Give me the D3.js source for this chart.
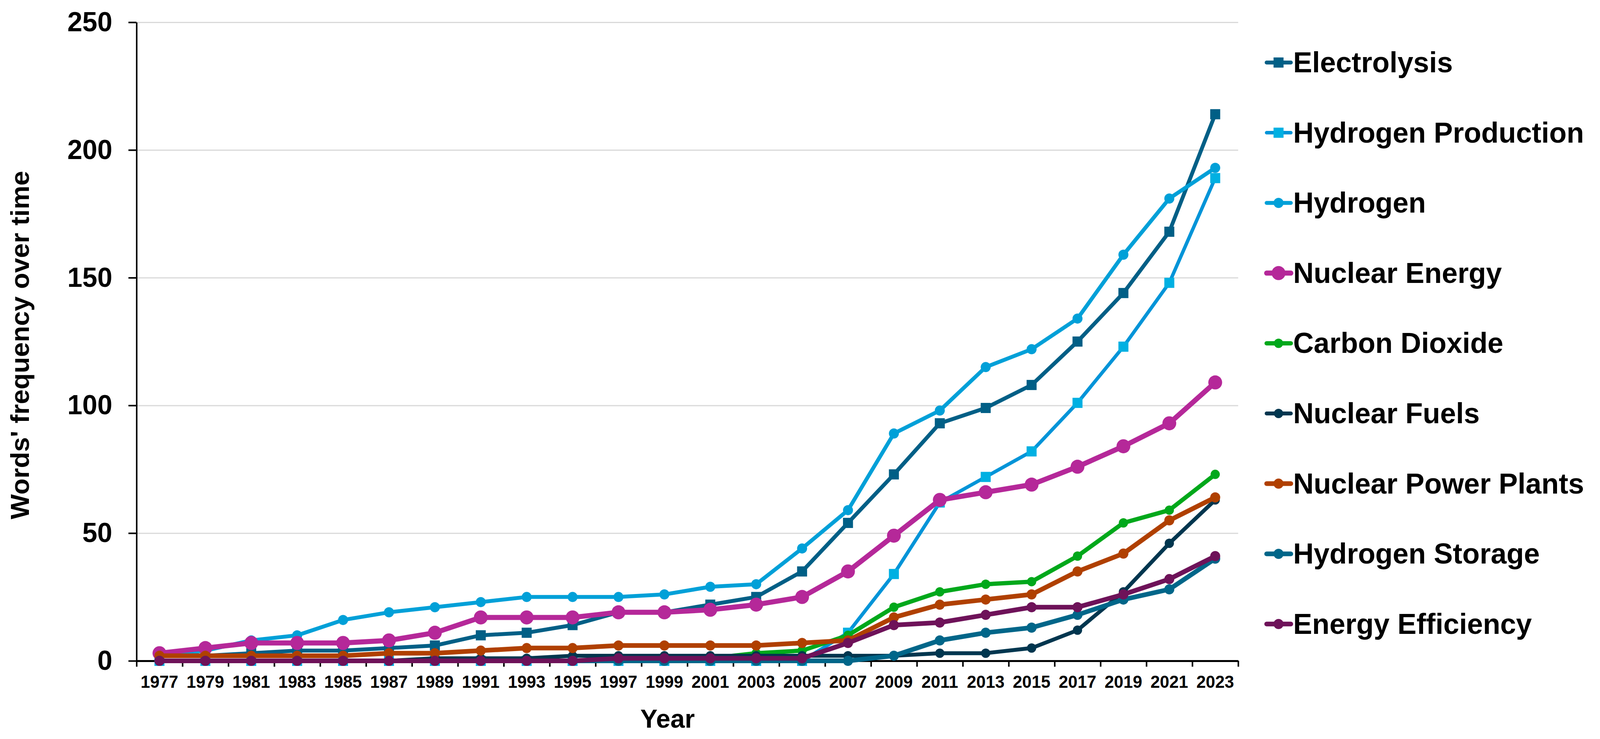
<!DOCTYPE html>
<html>
<head>
<meta charset="utf-8">
<script src="https://cdn.jsdelivr.net/npm/d3@7"></script>
<style>
  html, body { margin: 0; padding: 0; background: #fff; overflow: hidden; }
  svg { display: block; width: 100vw; height: 100vh; }
  text { font-family: "Liberation Sans", Arial, sans-serif; font-weight: bold; fill: #000; }
</style>
</head>
<body>
<svg id="chart" viewBox="0 0 4161 1891" preserveAspectRatio="none"></svg>
<script>
// category labels (x axis)
const years = ['1977', '1979', '1981', '1983', '1985', '1987', '1989', '1991', '1993', '1995', '1997', '1999',
  '2001', '2003', '2005', '2007', '2009', '2011', '2013', '2015', '2017', '2019', '2021', '2023'];
const yTicks = [0, 50, 100, 150, 200, 250];

// series values
const electrolysis = [2, 2, 3, 4, 4, 5, 6, 10, 11, 14, 19, 19, 22, 25, 35, 54, 73, 93, 99, 108, 125, 144, 168, 214];
const hydrogenProduction = [0, 0, 0, 0, 0, 0, 0, 0, 0, 0, 0, 0, 0, 0, 0, 11, 34, 62, 72, 82, 101, 123, 148, 189];
const hydrogen = [2, 4, 8, 10, 16, 19, 21, 23, 25, 25, 25, 26, 29, 30, 44, 59, 89, 98, 115, 122, 134, 159, 181, 193];
const nuclearEnergy = [3, 5, 7, 7, 7, 8, 11, 17, 17, 17, 19, 19, 20, 22, 25, 35, 49, 63, 66, 69, 76, 84, 93, 109];
const carbonDioxide = [0, 0, 0, 0, 0, 0, 0, 0, 0, 0, 0, 0, 1, 3, 4, 10, 21, 27, 30, 31, 41, 54, 59, 73];
const nuclearFuels = [0, 0, 0, 0, 0, 0, 1, 1, 1, 2, 2, 2, 2, 2, 2, 2, 2, 3, 3, 5, 12, 27, 46, 63];
const nuclearPowerPlants = [2, 2, 2, 2, 2, 3, 3, 4, 5, 5, 6, 6, 6, 6, 7, 8, 17, 22, 24, 26, 35, 42, 55, 64];
const hydrogenStorage = [0, 0, 0, 0, 0, 0, 0, 0, 0, 0, 0, 0, 0, 0, 0, 0, 2, 8, 11, 13, 18, 24, 28, 40];
const energyEfficiency = [0, 0, 0, 0, 0, 0, 0, 0, 0, 0, 1, 1, 1, 1, 1, 7, 14, 15, 18, 21, 21, 26, 32, 41];

const series = [
  { name: 'Electrolysis', values: electrolysis, line: '#005f86', fill: '#005f86', shape: 'square', size: 26, width: 10 },
  { name: 'Hydrogen Production', values: hydrogenProduction, line: '#0094d8', fill: '#00b0e2', shape: 'square', size: 26, width: 9 },
  { name: 'Hydrogen', values: hydrogen, line: '#00a0d8', fill: '#00a0d8', shape: 'circle', size: 26, width: 10 },
  { name: 'Nuclear Energy', values: nuclearEnergy, line: '#b52899', fill: '#b52899', shape: 'circle', size: 36, width: 13 },
  { name: 'Carbon Dioxide', values: carbonDioxide, line: '#00a81b', fill: '#00a81b', shape: 'circle', size: 24, width: 11 },
  { name: 'Nuclear Fuels', values: nuclearFuels, line: '#00364f', fill: '#00364f', shape: 'circle', size: 24, width: 10 },
  { name: 'Nuclear Power Plants', values: nuclearPowerPlants, line: '#b04000', fill: '#b04000', shape: 'circle', size: 26, width: 12 },
  { name: 'Hydrogen Storage', values: hydrogenStorage, line: '#006689', fill: '#006689', shape: 'circle', size: 26, width: 12 },
  { name: 'Energy Efficiency', values: energyEfficiency, line: '#6e1259', fill: '#6e1259', shape: 'circle', size: 26, width: 12 }
];

const svg = d3.select('#chart');
const plotLeft = 355, plotRight = 3220, plotTop = 57, plotBottom = 1691;

const x = d3.scaleBand().domain(years).range([plotLeft, plotRight]);
const xEdge = d3.scaleLinear().domain([0, years.length]).range([plotLeft, plotRight]);
const y = d3.scaleLinear().domain([0, 250]).range([plotBottom, plotTop]);

const markerPath = (s) => {
  const area = s.shape === 'square' ? s.size * s.size : Math.PI * (s.size / 2) * (s.size / 2);
  return d3.symbol().type(s.shape === 'square' ? d3.symbolSquare : d3.symbolCircle).size(area)();
};

// gridlines
svg.append('g')
  .attr('transform', `translate(${plotLeft},0)`)
  .call(d3.axisLeft(y).tickValues(yTicks.slice(1)).tickSize(-(plotRight - plotLeft)).tickFormat(''))
  .call((g) => g.select('.domain').remove())
  .selectAll('line')
  .attr('stroke', '#d9d9d9')
  .attr('stroke-width', 3);

// y axis
const yAxis = svg.append('g')
  .attr('transform', `translate(${plotLeft},0)`)
  .call(d3.axisLeft(y).tickValues(yTicks).tickSize(21).tickSizeOuter(0).tickPadding(42));
yAxis.select('.domain').attr('stroke', '#000').attr('stroke-width', 4);
yAxis.selectAll('.tick line').attr('stroke', '#000').attr('stroke-width', 4);
yAxis.selectAll('text').style('font-size', '70px');

// x axis: tick marks between categories, labels at centers
const xTicks = svg.append('g')
  .attr('transform', `translate(0,${plotBottom})`)
  .call(d3.axisBottom(xEdge).tickValues(d3.range(years.length + 1)).tickSize(15).tickSizeOuter(0).tickFormat(''));
xTicks.select('.domain').attr('stroke', '#000').attr('stroke-width', 5);
xTicks.selectAll('.tick line').attr('stroke', '#000').attr('stroke-width', 4);

const xLabels = svg.append('g')
  .attr('transform', `translate(0,${plotBottom})`)
  .call(d3.axisBottom(x).tickSize(0).tickPadding(38));
xLabels.select('.domain').remove();
xLabels.selectAll('text').style('font-size', '44px');

// axis titles
svg.append('text')
  .attr('transform', 'translate(75,883) rotate(-90)')
  .attr('text-anchor', 'middle')
  .style('font-size', '68px')
  .text("Words' frequency over time");

svg.append('text')
  .attr('x', 1736)
  .attr('y', 1862)
  .attr('text-anchor', 'middle')
  .style('font-size', '67px')
  .text('Year');

// series
const cx = (i) => x(years[i]) + x.bandwidth() / 2;
const line = d3.line().x((d, i) => cx(i)).y((d) => y(d));

series.forEach((s) => {
  const g = svg.append('g').attr('class', 'series');
  g.append('path')
    .attr('d', line(s.values))
    .attr('fill', 'none')
    .attr('stroke', s.line)
    .attr('stroke-width', s.width)
    .attr('stroke-linejoin', 'round');
  g.selectAll('path.marker')
    .data(s.values)
    .enter()
    .append('path')
    .attr('class', 'marker')
    .attr('d', markerPath(s))
    .attr('transform', (d, i) => `translate(${cx(i)},${y(d)})`)
    .attr('fill', s.fill);
});

// legend
const legend = svg.selectAll('.legend')
  .data(series)
  .enter()
  .append('g')
  .attr('class', 'legend')
  .attr('transform', (d, i) => `translate(0,${185 + i * 179.6})`);

legend.append('line')
  .attr('x1', 3294)
  .attr('x2', 3357)
  .attr('y1', -25)
  .attr('y2', -25)
  .attr('stroke', (d) => d.line)
  .attr('stroke-width', (d) => d.width)
  .attr('stroke-linecap', 'round');

legend.append('path')
  .attr('d', (d) => markerPath(d))
  .attr('transform', 'translate(3325,-25)')
  .attr('fill', (d) => d.fill);

legend.append('text')
  .attr('x', 3363)
  .attr('y', 0)
  .style('font-size', '74px')
  .text((d) => d.name);
</script>
</body>
</html>
